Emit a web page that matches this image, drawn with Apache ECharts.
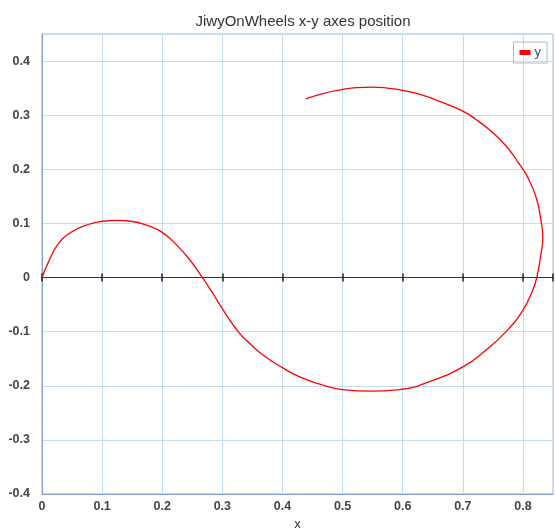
<!DOCTYPE html>
<html><head><meta charset="utf-8">
<script src="https://cdn.jsdelivr.net/npm/echarts@6/dist/echarts.min.js"></script>
<style>html,body{margin:0;padding:0;background:#fff}#c{width:555px;height:529px}</style>
</head><body><div id="c"></div>
<script>
const titleText = 'JiwyOnWheels x-y axes position';
const seriesName = 'y';
const xName = 'x';
const xs = [0,0.0105,0.027,0.049,0.077,0.101,0.124,0.148,0.176,0.2005,0.225,0.247,0.266,0.2845,0.302,0.326,0.3455,0.368,0.399,0.4286,0.462,0.500,0.545,0.595,0.639,0.700,0.7386,0.772,0.7995,0.816,0.823,0.829,0.833,0.830,0.822,0.808,0.792,0.772,0.750,0.722,0.700,0.667,0.634,0.599,0.575,0.550,0.523,0.500,0.467,0.4385];
const ys = [0,0.028,0.062,0.084,0.098,0.104,0.1056,0.104,0.096,0.083,0.059,0.031,0.001,-0.030,-0.061,-0.0995,-0.122,-0.1436,-0.166,-0.1836,-0.197,-0.207,-0.210,-0.207,-0.1946,-0.165,-0.134,-0.100,-0.061,-0.024,0,0.037,0.074,0.105,0.148,0.185,0.213,0.243,0.2676,0.292,0.3075,0.323,0.3365,0.346,0.350,0.352,0.351,0.3475,0.340,0.330];
const data = xs.map((x, i) => [x, ys[i]]);
const font = 'Liberation Sans, Arial, sans-serif';
const chart = echarts.init(document.getElementById('c'));
const zeroAxis = (pos, yIdx) => ({
  type: 'value', min: 0, max: 0.85, interval: 0.1, position: pos,
  axisLine: { show: true, onZero: true, onZeroAxisIndex: yIdx, lineStyle: { color: '#333', width: 1.2 } },
  axisTick: { show: true, length: 4, lineStyle: { color: '#222', width: 1.5 } },
  axisLabel: { show: false }, splitLine: { show: false }
});
const yBase = { type: 'value', min: -0.4, max: 0.45, interval: 0.1 };
chart.setOption({
  animation: false,
  title: { text: titleText, left: 298, textAlign: 'center', top: 9,
    textStyle: { fontFamily: font, fontSize: 15, fontWeight: 'normal', color: '#333' } },
  legend: { data: [seriesName], right: 8, top: 42, icon: 'rect', itemWidth: 11, itemHeight: 5,
    itemGap: 4, padding: [4, 6, 4, 6], borderColor: '#a9b8c8', borderWidth: 1,
    textStyle: { fontFamily: font, fontSize: 13, color: '#3a4a7a', padding: [0, 0, 0, -1] } },
  grid: { left: 42, right: 2, top: 34, bottom: 35, show: true, borderColor: '#9fb6d2', borderWidth: 1,
    outerBoundsMode: 'none', containLabel: false },
  xAxis: [
    { type: 'value', min: 0, max: 0.85, interval: 0.1, position: 'bottom',
      name: xName, nameLocation: 'middle', nameGap: 18,
      nameTextStyle: { fontFamily: font, fontSize: 13, color: '#333' },
      axisLine: { show: true, onZero: false, lineStyle: { color: '#7f9fc8' } },
      axisTick: { show: false },
      axisLabel: { fontFamily: font, fontSize: 12.5, fontWeight: 'bold', color: '#444', margin: 6, showMaxLabel: false,
        formatter: v => String(+v.toFixed(2)) },
      splitLine: { show: true, lineStyle: { color: '#c6dcf2', width: 1 } } },
    zeroAxis('top', 0),
    zeroAxis('bottom', 1)
  ],
  yAxis: [
    Object.assign({}, yBase, {
      axisLine: { show: true, onZero: false, lineStyle: { color: '#7f9fc8' } },
      axisTick: { show: false },
      axisLabel: { fontFamily: font, fontSize: 12.5, fontWeight: 'bold', color: '#444', margin: 12, showMaxLabel: false,
        formatter: v => String(+v.toFixed(2)) },
      splitLine: { show: true, lineStyle: { color: '#c6dcf2', width: 1 } } }),
    Object.assign({}, yBase, { position: 'right', show: false })
  ],
  series: [{ name: seriesName, type: 'line', data: data, smooth: 0.5, showSymbol: false,
    xAxisIndex: 0, yAxisIndex: 0, lineStyle: { color: '#ff0000', width: 1.3 }, itemStyle: { color: '#ff0000' } }]
});
</script></body></html>
